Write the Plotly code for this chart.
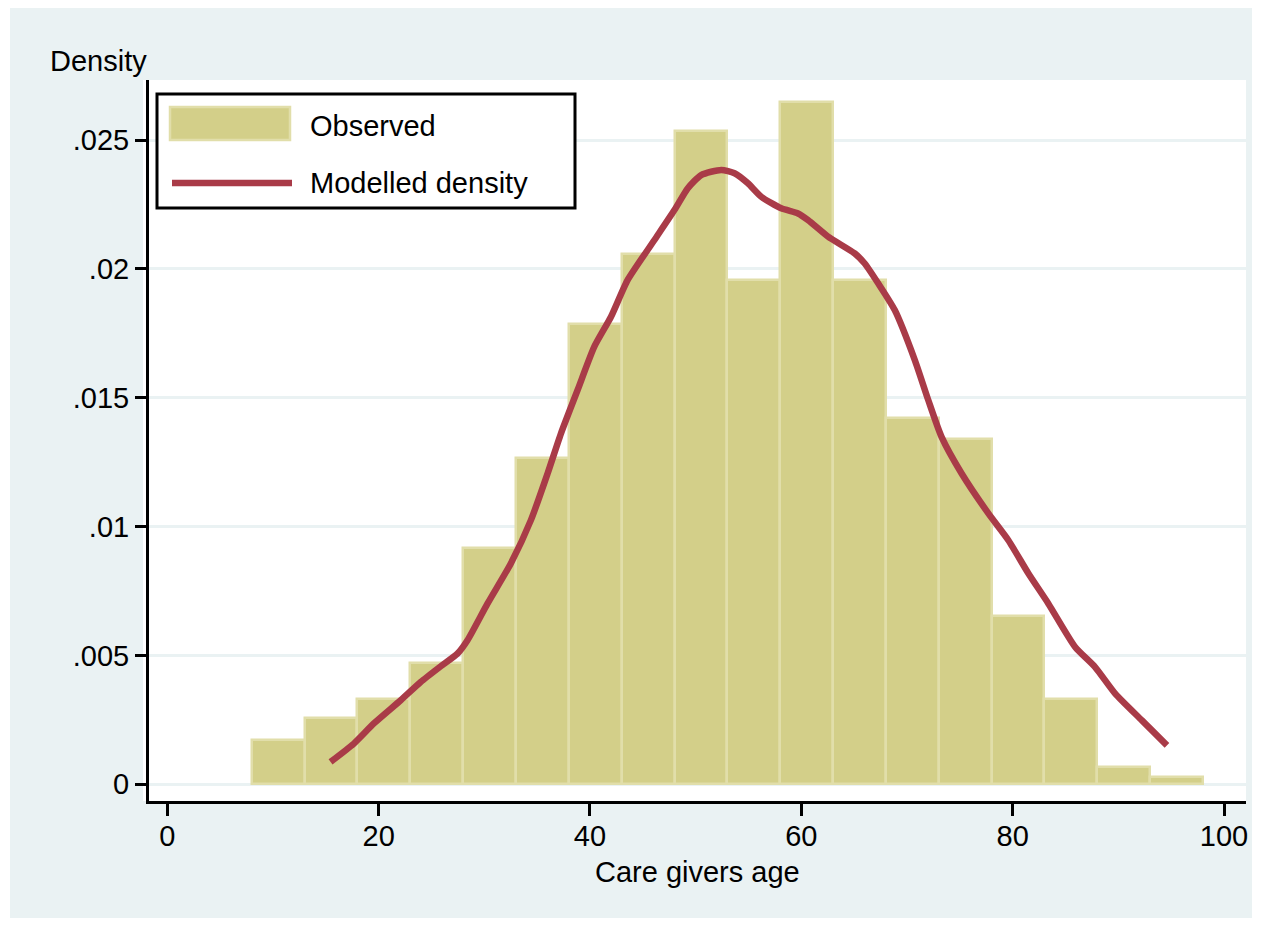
import plotly.graph_objects as go

# ---------------- data ----------------
bin_edges = [8, 13, 18, 23, 28, 33, 38, 43, 48, 53, 58, 63, 68, 73, 78, 83, 88, 93, 98]
observed_density = [0.00171, 0.00256, 0.00330, 0.00470, 0.00916, 0.01266, 0.01786, 0.02057,
                    0.02535, 0.01957, 0.02648, 0.01957, 0.01421, 0.01339, 0.00652, 0.00330,
                    0.00066, 0.00027]

model_age = [15.45, 17.66, 19.55, 22.09, 23.98, 25.88, 27.46, 28.41, 30.30, 32.51, 34.41,
             35.99, 37.25, 38.83, 40.41, 41.99, 43.57, 46.10, 47.99, 49.26, 50.52, 52.42,
             53.68, 54.95, 56.21, 58.10, 59.69, 60.64, 62.53, 65.05, 66.00, 67.27, 68.84,
             70.74, 72.01, 73.27, 75.17, 77.70, 79.59, 81.49, 83.38, 85.91, 87.80, 89.70,
             92.23, 94.60]
model_density = [0.00087, 0.00158, 0.00236, 0.00326, 0.00397, 0.00458, 0.00507, 0.00559,
                 0.00701, 0.00857, 0.01025, 0.01206, 0.01361, 0.01530, 0.01698, 0.01814,
                 0.01957, 0.02112, 0.02228, 0.02313, 0.02364, 0.02384, 0.02371, 0.02332,
                 0.02280, 0.02235, 0.02215, 0.02189, 0.02125, 0.02060, 0.02021, 0.01944,
                 0.01840, 0.01646, 0.01491, 0.01348, 0.01206, 0.01051, 0.00947, 0.00818,
                 0.00701, 0.00533, 0.00455, 0.00352, 0.00248, 0.00151]

x_tick_vals = [0, 20, 40, 60, 80, 100]
x_tick_text = ["0", "20", "40", "60", "80", "100"]
y_tick_vals = [0, 0.005, 0.01, 0.015, 0.02, 0.025]
y_tick_text = ["0", ".005", ".01", ".015", ".02", ".025"]

series_names = ["Observed", "Modelled density"]
x_title = "Care givers age"
y_title = "Density"

# ---------------- style ----------------
BG = "#EAF2F3"
BAR_FILL = "#D3CF89"
BAR_EDGE = "#E1DEAA"
LINE_COL = "#A93B48"
GRID = "#EAF2F3"
FONT = "Liberation Sans, Arial, sans-serif"
FS = 29

# the page places the figure 8px in from the window's top-left corner
OFF = 8
WIDTH, HEIGHT = 1262 - OFF, 927 - OFF
# plot-area edges, in window pixels
L0, R0, T0, B0 = 149, 1246, 80, 801
L, R, T, B = L0 - OFF, R0 - OFF, T0 - OFF, B0 - OFF
PW, PH = R - L, B - T


def px(p):
    """window pixel x -> paper coordinate"""
    return (p - OFF - L) / PW


def py(p):
    """window pixel y -> paper coordinate"""
    return (B - (p - OFF)) / PH


centers = [(bin_edges[i] + bin_edges[i + 1]) / 2 for i in range(len(observed_density))]
widths = [bin_edges[i + 1] - bin_edges[i] for i in range(len(observed_density))]

fig = go.Figure()
fig.add_trace(go.Bar(
    x=centers, y=observed_density, width=widths, name=series_names[0],
    marker=dict(color=BAR_FILL, line=dict(color=BAR_EDGE, width=2.5)),
    showlegend=False,
))
fig.add_trace(go.Scatter(
    x=model_age, y=model_density, mode="lines", name=series_names[1],
    line=dict(color=LINE_COL, width=6.5, shape="spline", smoothing=0.6),
    showlegend=False,
))

shapes = [
    # outer light background
    dict(type="rect", xref="paper", yref="paper", layer="below",
         x0=px(10), x1=px(1252), y0=py(918), y1=py(8),
         fillcolor=BG, line=dict(width=0)),
    # white plot region
    dict(type="rect", xref="paper", yref="paper", layer="below",
         x0=px(143), x1=px(1246), y0=py(801), y1=py(80),
         fillcolor="white", line=dict(width=0)),
    # legend box
    dict(type="rect", xref="paper", yref="paper", layer="above",
         x0=px(157), x1=px(575), y0=py(208), y1=py(94),
         fillcolor="white", line=dict(color="black", width=3)),
    # legend swatch: bar
    dict(type="rect", xref="paper", yref="paper", layer="above",
         x0=px(170), x1=px(290), y0=py(140), y1=py(107),
         fillcolor=BAR_FILL, line=dict(color=BAR_EDGE, width=2.5)),
    # legend swatch: line
    dict(type="line", xref="paper", yref="paper", layer="above",
         x0=px(172), x1=px(292), y0=py(183), y1=py(183),
         line=dict(color=LINE_COL, width=6.5)),
]

annotations = [
    dict(text=series_names[0], xref="paper", yref="paper", x=px(308), y=py(126),
         xanchor="left", yanchor="middle", showarrow=False,
         font=dict(family=FONT, size=FS, color="black")),
    dict(text=series_names[1], xref="paper", yref="paper", x=px(308), y=py(183),
         xanchor="left", yanchor="middle", showarrow=False,
         font=dict(family=FONT, size=FS, color="black")),
    dict(text=y_title, xref="paper", yref="paper", x=px(48), y=py(61),
         xanchor="left", yanchor="middle", showarrow=False,
         font=dict(family=FONT, size=FS, color="black")),
    dict(text=x_title, xref="paper", yref="paper", x=px(697), y=py(872),
         xanchor="center", yanchor="middle", showarrow=False,
         font=dict(family=FONT, size=FS, color="black")),
]

fig.update_layout(
    width=WIDTH, height=HEIGHT, autosize=False,
    margin=dict(l=L, r=WIDTH - R, t=T, b=HEIGHT - B, pad=0),
    paper_bgcolor="white", plot_bgcolor="white",
    font=dict(family=FONT, size=FS, color="black"),
    bargap=0, barmode="overlay",
    shapes=shapes, annotations=annotations,
    showlegend=False,
)
fig.update_xaxes(
    range=[-1.73, 102.08], tickmode="array", tickvals=x_tick_vals, ticktext=x_tick_text,
    showline=True, linecolor="black", linewidth=3,
    ticks="outside", ticklen=12, tickwidth=3, tickcolor="black",
    ticklabelstandoff=-5,
    showgrid=False, zeroline=False,
    tickfont=dict(family=FONT, size=FS, color="black"),
)
fig.update_yaxes(
    range=[-0.000648, 0.027328], tickmode="array", tickvals=y_tick_vals, ticktext=y_tick_text,
    showline=True, linecolor="black", linewidth=3,
    ticks="outside", ticklen=11, tickwidth=3, tickcolor="black",
    showgrid=True, gridcolor=GRID, gridwidth=3, zeroline=False,
    tickfont=dict(family=FONT, size=FS, color="black"),
)

fig.write_html("out.html")
